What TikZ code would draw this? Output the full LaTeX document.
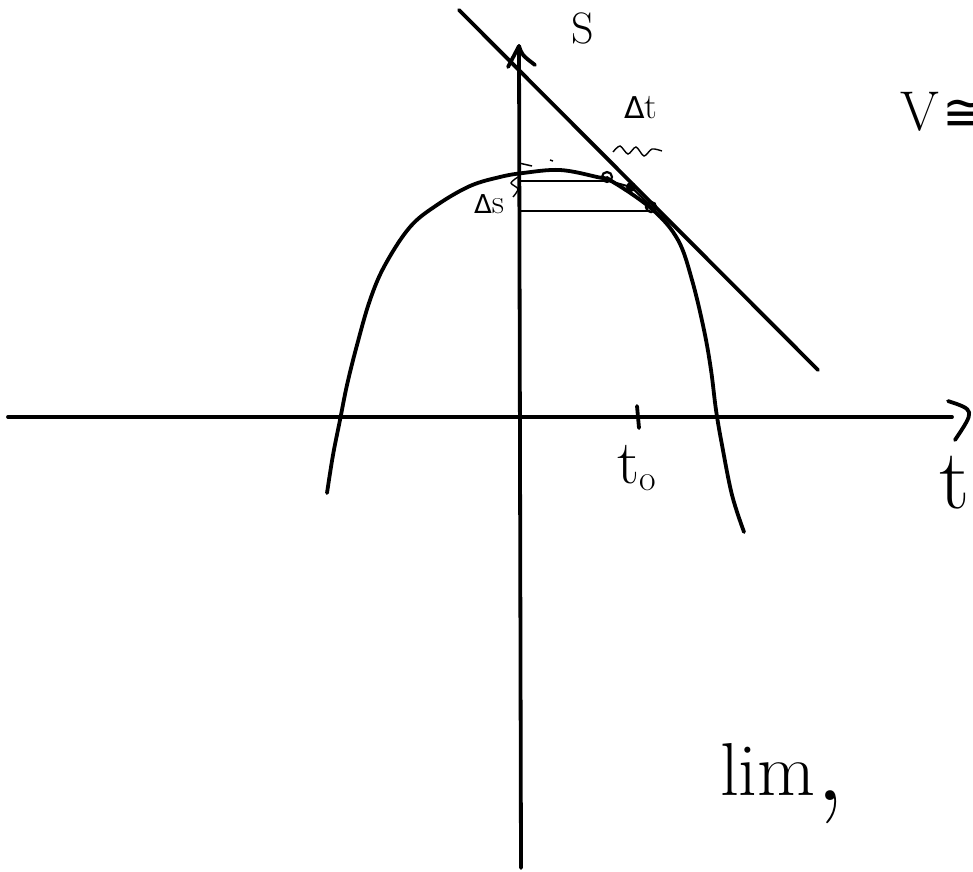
\documentclass[tikz,border=0pt]{standalone}
\usepackage{fontspec}
\newfontfamily\symfont{DejaVu Sans}
\begin{document}
\begin{tikzpicture}[x=1pt,y=-1pt,
  stroke/.style={line width=3.8pt,line cap=round,line join=round},
  fine/.style={line width=2pt,line cap=round,line join=round},
  lbl/.style={inner sep=0pt,outer sep=0pt}]
\useasboundingbox (0,0) rectangle (973,871);
\clip (0,0) rectangle (973,871);
\fill[white] (0,0) rectangle (973,871);
% axes
\coordinate (xL) at (8,417);
\coordinate (xR) at (952,417);
\coordinate (xa1) at (948,401);
\coordinate (xa2) at (955,440);
\coordinate (yB) at (521,868);
\coordinate (yT) at (519,46);
\coordinate (ya1) at (508,67);
\coordinate (ya2) at (535,65);
\draw[stroke] (xL) -- (xR);
\draw[stroke] (xa1) .. controls (975,410) .. (xa2);
\draw[stroke] (yB) -- (yT);
\draw[stroke] (ya1) -- (yT) .. controls (522,55) .. (ya2);
% tangent
\coordinate (tA) at (459,10);
\coordinate (tB) at (818,370);
\draw[stroke] (tA) -- (tB);
% curve
\draw[stroke] plot[smooth,tension=0.6] coordinates {(327,493) (333,455) (340,420) (347,385) (357,345) (370,300) (385,265) (410,227) (437,205) (470,186) (500,177) (523,173) (560,170) (597,177) (613,182) (653,210) (678,240) (692,280) (704,330) (711,370) (716,410) (722,445) (732,495) (744,532)};
% points
\coordinate (P1) at (607,177);
\coordinate (P2) at (631,187);
\coordinate (P3) at (651,207);
\coordinate (H1) at (521,181);
\coordinate (H2) at (521,211);
\coordinate (H3) at (648,211);
\draw[fine] (H1) -- (607,181);
\draw[fine] (H2) -- (H3);
\draw[fine] (P1) -- (P3);
\draw[fine] (609,181) -- (P2) -- (655,210);
\draw[line width=2.2pt] (P1) circle (5);
\fill (P2) circle (5);
\draw[line width=2.4pt] (P3) circle (5);
% small marks
\draw[line width=1.5pt] (519,163) -- (532,166);
\draw[line width=1.5pt] (550,160) -- (553,161);
% labels
\node[lbl,font=\fontsize{44}{44}\selectfont] (S) at (583,28) {S};
\node[lbl,font=\fontsize{36}{36}\selectfont] (dt) at (641,108) {{\symfont\fontsize{30}{30}\selectfont Δ}t};
\draw[line width=1.4pt] plot[smooth] coordinates {(613,152) (620,146) (628,154) (636,147) (644,156) (652,149) (662,151)};
\node[lbl,font=\fontsize{34}{34}\selectfont] (ds) at (489,204) {{\symfont\fontsize{26}{26}\selectfont Δ}s};
\draw[line width=1.4pt] plot[smooth] coordinates {(518,177) (511,183) (518,189) (513,197)};
\coordinate (T0) at (637,406);
\draw[stroke] (T0) -- (639,428);
\node[lbl,font=\fontsize{62}{62}\selectfont] (t0) at (637,468) {t\raisebox{-0.12em}{\fontsize{36}{36}\selectfont o}};
\node[lbl,font=\fontsize{85}{85}\selectfont] (t) at (955,483) {t};
\node[lbl,font=\fontsize{56}{56}\selectfont,anchor=west] (V) at (900,112) {V\kern4pt{\symfont\fontsize{52}{52}\selectfont ≅}};
\node[lbl,font=\fontsize{75}{75}\selectfont,anchor=base west] (lim) at (720,795) {lim};
\node[lbl,font=\fontsize{120}{120}\selectfont,anchor=base west] (comma) at (815,800) {,};
\end{tikzpicture}
\end{document}
